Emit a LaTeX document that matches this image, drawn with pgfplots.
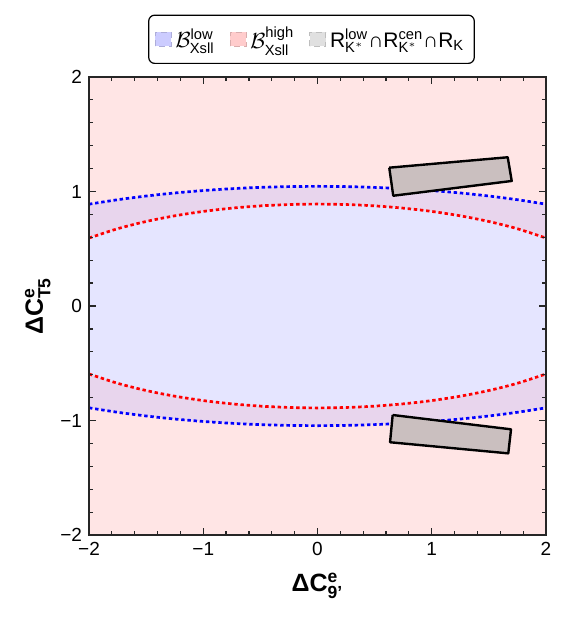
\documentclass[border=0pt]{standalone}
\usepackage{pgfplots}
\pgfplotsset{compat=1.18}
\usepackage{amsmath}
\usepackage{fontspec}
\setmainfont{Liberation Sans}
\definecolor{pinkbg}{RGB}{255,229,229}
\definecolor{bluebg}{RGB}{229,229,255}
\definecolor{lavbg}{RGB}{232,213,237}
\definecolor{boxgray}{RGB}{202,191,191}
\definecolor{legblue}{RGB}{204,204,255}
\definecolor{legpink}{RGB}{255,204,204}
\definecolor{leggray}{RGB}{224,224,224}
\begin{document}
\begin{tikzpicture}
\begin{axis}[
  name=ax, at={(0,0)}, anchor=south west,
  scale only axis, width=228.5pt, height=229pt,
  xmin=-2, xmax=2, ymin=-2, ymax=2,
  xtick={-2,-1,0,1,2}, ytick={-2,-1,0,1,2},
  xticklabels={−2,−1,0,1,2}, yticklabels={−2,−1,0,1,2},
  minor tick num=4,
  tick align=inside,
  major tick length=3.5pt, minor tick length=2pt,
  tick style={black!85, line width=0.6pt},
  axis line style={black!85, line width=0.75pt},
  tick label style={font=\fontsize{9.5}{11}\selectfont},
  axis background/.style={fill=pinkbg},
  axis on top,
  xlabel={\textbf{ΔC}$^{\text{\bfseries e}}_{\text{\bfseries 9'}}$},
  ylabel={\textbf{ΔC}$^{\text{\bfseries e}}_{\text{\bfseries T5}}$},
  label style={font=\fontsize{12.5}{14}\selectfont\bfseries},
  xlabel style={at={(axis description cs:0.5,-0.1225)}, anchor=base},
  ylabel style={at={(axis description cs:-0.1007,0.5)}, anchor=base},
  legend image code/.code={\draw[#1, sharp corners] (0pt,-3.5pt) rectangle (8pt,3.5pt);},
  legend style={at={(axis description cs:0.5,1)}, anchor=south, yshift=6.5pt, xshift=-3pt,
    legend columns=3, draw=black, line width=0.6pt, rounded corners=3pt,
    font=\fontsize{10.5}{12}\selectfont, inner xsep=3pt, inner ysep=4pt,
    /tikz/every even column/.append style={column sep=5.5pt}},
  legend cell align=left,
]
% blue band region (overlap lavender), between blue curves
\addplot[forget plot, fill=lavbg, draw=none] coordinates {
(-2,0.8893) (-1.75,0.9281) (-1.5,0.9605) (-1.25,0.9871) (-1,1.0083) (-0.75,1.0245) (-0.5,1.0359) (-0.25,1.0427) (0,1.045)
(0.25,1.0427) (0.5,1.0359) (0.75,1.0245) (1,1.0083) (1.25,0.9871) (1.5,0.9605) (1.75,0.9281) (2,0.8893)
(2,-0.8893) (1.75,-0.9281) (1.5,-0.9605) (1.25,-0.9871) (1,-1.0083) (0.75,-1.0245) (0.5,-1.0359) (0.25,-1.0427) (0,-1.045)
(-0.25,-1.0427) (-0.5,-1.0359) (-0.75,-1.0245) (-1,-1.0083) (-1.25,-0.9871) (-1.5,-0.9605) (-1.75,-0.9281) (-2,-0.8893)
};
% inside red curves: only blue
\addplot[forget plot, fill=bluebg, draw=none] coordinates {
(-2,0.5933) (-1.75,0.6747) (-1.5,0.7380) (-1.25,0.7875) (-1,0.8259) (-0.75,0.8545) (-0.5,0.8744) (-0.25,0.8861) (0,0.89)
(0.25,0.8861) (0.5,0.8744) (0.75,0.8545) (1,0.8259) (1.25,0.7875) (1.5,0.7380) (1.75,0.6747) (2,0.5933)
(2,-0.5933) (1.75,-0.6747) (1.5,-0.7380) (1.25,-0.7875) (1,-0.8259) (0.75,-0.8545) (0.5,-0.8744) (0.25,-0.8861) (0,-0.89)
(-0.25,-0.8861) (-0.5,-0.8744) (-0.75,-0.8545) (-1,-0.8259) (-1.25,-0.7875) (-1.5,-0.7380) (-1.75,-0.6747) (-2,-0.5933)
};
% blue dashed curves
\addplot[forget plot, blue, line width=1.35pt, dash pattern=on 1.7pt off 1.4pt, smooth] coordinates {
(-2,0.8893) (-1.75,0.9281) (-1.5,0.9605) (-1.25,0.9871) (-1,1.0083) (-0.75,1.0245) (-0.5,1.0359) (-0.25,1.0427) (0,1.045)
(0.25,1.0427) (0.5,1.0359) (0.75,1.0245) (1,1.0083) (1.25,0.9871) (1.5,0.9605) (1.75,0.9281) (2,0.8893)};
\addplot[forget plot, blue, line width=1.35pt, dash pattern=on 1.7pt off 1.4pt, smooth] coordinates {
(-2,-0.8893) (-1.75,-0.9281) (-1.5,-0.9605) (-1.25,-0.9871) (-1,-1.0083) (-0.75,-1.0245) (-0.5,-1.0359) (-0.25,-1.0427) (0,-1.045)
(0.25,-1.0427) (0.5,-1.0359) (0.75,-1.0245) (1,-1.0083) (1.25,-0.9871) (1.5,-0.9605) (1.75,-0.9281) (2,-0.8893)};
% red dashed curves
\addplot[forget plot, red, line width=1.35pt, dash pattern=on 1.7pt off 1.4pt, smooth] coordinates {
(-2,0.5933) (-1.75,0.6747) (-1.5,0.7380) (-1.25,0.7875) (-1,0.8259) (-0.75,0.8545) (-0.5,0.8744) (-0.25,0.8861) (0,0.89)
(0.25,0.8861) (0.5,0.8744) (0.75,0.8545) (1,0.8259) (1.25,0.7875) (1.5,0.7380) (1.75,0.6747) (2,0.5933)};
\addplot[forget plot, red, line width=1.35pt, dash pattern=on 1.7pt off 1.4pt, smooth] coordinates {
(-2,-0.5933) (-1.75,-0.6747) (-1.5,-0.7380) (-1.25,-0.7875) (-1,-0.8259) (-0.75,-0.8545) (-0.5,-0.8744) (-0.25,-0.8861) (0,-0.89)
(0.25,-0.8861) (0.5,-0.8744) (0.75,-0.8545) (1,-0.8259) (1.25,-0.7875) (1.5,-0.7380) (1.75,-0.6747) (2,-0.5933)};
% gray boxes
\addplot[forget plot, fill=boxgray, draw=black, line width=1.2pt, line join=round] coordinates {
(0.628,1.208) (1.665,1.299) (1.700,1.092) (0.663,0.963) (0.628,1.208)};
\addplot[forget plot, fill=boxgray, draw=black, line width=1.2pt, line join=round] coordinates {
(0.658,-0.952) (1.694,-1.077) (1.670,-1.287) (0.635,-1.190) (0.658,-0.952)};
% legend
\addlegendimage{fill=legblue, draw=legblue!85!black, densely dashed, line width=0.4pt}
\addlegendentry{$\mathcal{B}^{\text{low}}_{\text{Xsll}}$}
\addlegendimage{fill=legpink, draw=legpink!85!black, densely dashed, line width=0.4pt}
\addlegendentry{$\mathcal{B}^{\text{high}}_{\text{Xsll}}$}
\addlegendimage{fill=leggray, draw=leggray!85!black, densely dashed, line width=0.4pt}
\addlegendentry{R$^{\text{low}}_{\text{K}^{*}}$∩R$^{\text{cen}}_{\text{K}^{*}}$∩R$_{\text{K}}$}
\end{axis}
\pgfresetboundingbox
\useasboundingbox (-44.5pt,-43pt) rectangle (241pt,267.5pt);
\end{tikzpicture}
\end{document}
